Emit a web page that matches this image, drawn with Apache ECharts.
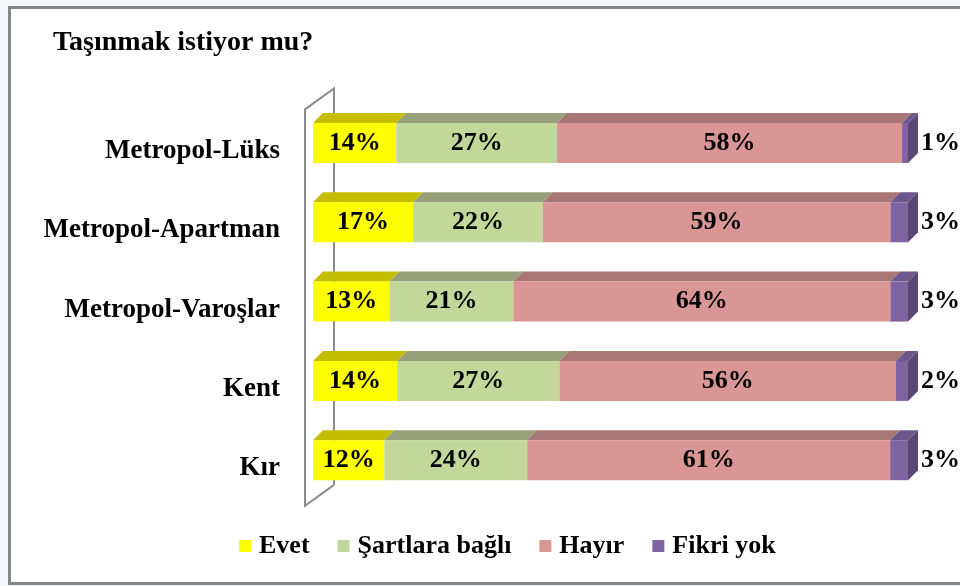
<!DOCTYPE html>
<html>
<head>
<meta charset="utf-8">
<script src="https://cdn.jsdelivr.net/npm/echarts@6/dist/echarts.min.js"></script>
<style>
  body { margin: 0; background: #f4f8fc; }
  #frame { position: absolute; left: 8px; top: 6px; width: 1000px; height: 573px;
           border: 3px solid #878787; background: #fff; }
  #main { position: absolute; left: 0; top: 0; width: 960px; height: 586px; }
</style>
</head>
<body>
<div id="frame"></div>
<div id="main"></div>
<script>
// veriler
var categories = ['Metropol-Lüks', 'Metropol-Apartman', 'Metropol-Varoşlar', 'Kent', 'Kır'];
var seriesNames = ['Evet', 'Şartlara bağlı', 'Hayır', 'Fikri yok'];
var evet = [14, 17, 13, 14, 12];
var sartli = [27, 22, 21, 27, 24];
var hayir = [58, 59, 64, 56, 61];
var fikriYok = [1, 3, 3, 2, 3];

var raw = [evet, sartli, hayir, fikriYok];
var frontColors = ['#ffff00', '#c4d79b', '#d99694', '#8064a2'];
var topColors = ['#c4bd00', '#979f7b', '#a87674', '#6b578b'];
var sideColor = '#5a4674';
var FONT = 'Liberation Serif';
var BAR_W = 40, DEPTH = 10;

// %100 yigilmis: her satiri toplamina gore olcekle
var norm = raw.map(function (arr) {
    return arr.map(function (v, i) {
        var sum = 0;
        for (var s = 0; s < raw.length; s++) sum += raw[s][i];
        return v / sum * 100;
    });
});

var series = [];

// arka duvar cizgileri
series.push({
    type: 'custom',
    z: 1,
    silent: true,
    data: [[0, 0]],
    renderItem: function (params, api) {
        var cs = params.coordSys;
        var fx = cs.x - 8, bx = cs.x + 21;
        var top = cs.y, bot = cs.y + cs.height;
        return {
            type: 'polyline',
            shape: { points: [[bx, bot - 15], [bx, top - 15], [fx, top + 6], [fx, bot + 6], [bx, bot - 15]] },
            style: { stroke: '#8c8c8c', lineWidth: 2, fill: null }
        };
    }
});

// on yuzler
for (var s = 0; s < raw.length; s++) {
    (function (s) {
        series.push({
            name: seriesNames[s],
            type: 'bar',
            stack: 'total',
            z: 3,
            barWidth: BAR_W,
            itemStyle: { color: frontColors[s] },
            data: norm[s],
            label: {
                show: true,
                position: s === raw.length - 1 ? 'right' : 'inside',
                distance: 13,
                color: '#000',
                fontFamily: FONT,
                fontWeight: 'bold',
                fontSize: 26,
                formatter: function (p) { return raw[s][p.dataIndex] + '%'; }
            }
        });
    })(s);
}

// ust yuzler ve sag yan yuz
series.push({
    type: 'custom',
    z: 2,
    silent: true,
    data: categories.map(function (c, i) { return [0, i]; }),
    encode: { x: 0, y: 1 },
    renderItem: function (params, api) {
        var i = params.dataIndex;
        var cy = api.coord([0, i])[1];
        var yTop = cy - BAR_W / 2, yBot = cy + BAR_W / 2;
        var acc = 0, children = [], b = 0;
        for (var s = 0; s < norm.length; s++) {
            var a = api.coord([acc, i])[0];
            acc += norm[s][i];
            b = api.coord([acc, i])[0];
            children.push({
                type: 'polygon',
                shape: { points: [[a, yTop], [b, yTop], [b + DEPTH, yTop - DEPTH], [a + DEPTH, yTop - DEPTH]] },
                style: { fill: topColors[s] }
            });
        }
        children.push({
            type: 'polygon',
            shape: { points: [[b, yTop], [b + DEPTH, yTop - DEPTH], [b + DEPTH, yBot - DEPTH], [b, yBot]] },
            style: { fill: sideColor }
        });
        return { type: 'group', children: children };
    }
});

var chart = echarts.init(document.getElementById('main'));
chart.setOption({
    animation: false,
    title: {
        text: 'Taşınmak istiyor mu?',
        left: 48,
        top: 24,
        textStyle: { fontFamily: FONT, fontWeight: 'bold', fontSize: 28, color: '#000' }
    },
    legend: {
        data: seriesNames,
        left: 234,
        top: 528,
        itemWidth: 12,
        itemHeight: 12,
        itemGap: 28,
        icon: 'rect',
        textStyle: { fontFamily: FONT, fontWeight: 'bold', fontSize: 26, color: '#000', padding: [0, 0, 0, 3] }
    },
    grid: { left: 313, right: 52, top: 103.35, bottom: 86.15 },
    xAxis: {
        type: 'value',
        min: 0,
        max: 100,
        show: false
    },
    yAxis: {
        type: 'category',
        inverse: true,
        data: categories,
        axisLine: { show: false },
        axisTick: { show: false },
        axisLabel: {
            margin: 33,
            formatter: function (v) { return '{c|' + v + '}'; },
            rich: {
                c: {
                    padding: [16, 0, 0, 0],
                    color: '#000',
                    fontFamily: FONT,
                    fontWeight: 'bold',
                    fontSize: 27
                }
            }
        }
    },
    series: series
});
</script>
</body>
</html>
